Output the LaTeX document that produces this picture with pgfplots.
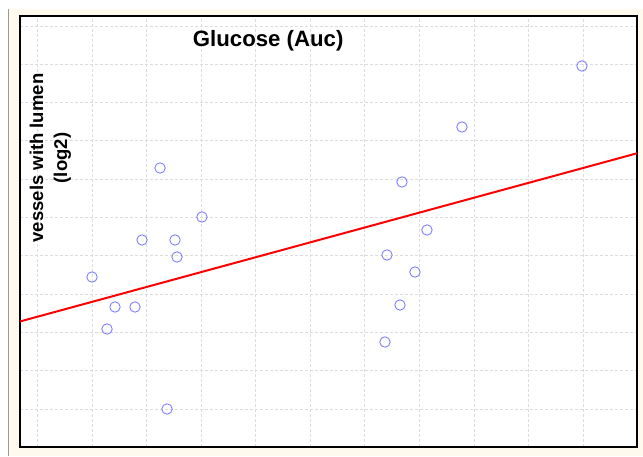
\documentclass[border=0pt]{standalone}
\usepackage{pgfplots}
\pgfplotsset{compat=1.18}
\usepackage{fontspec}
\setmainfont{Liberation Sans}
\definecolor{cream}{HTML}{FFF9EE}
\definecolor{gridgray}{HTML}{DCDCDC}
\definecolor{markblue}{HTML}{8080FF}
\begin{document}
\begin{tikzpicture}
\fill[white] (0pt,0pt) rectangle (643pt,456pt);
\fill[cream] (8pt,0pt) rectangle (643pt,447pt);
\draw[gray!80, line width=1pt] (8.5pt,0pt) -- (8.5pt,447pt);
\begin{axis}[
  at={(20pt,9pt)}, anchor=south west,
  scale only axis, width=617pt, height=431pt,
  xmin=-0.317, xmax=10.984, ymin=-0.992, ymax=10.261,
  xtick={0,...,10}, ytick={0,...,10},
  xticklabels={}, yticklabels={},
  major tick length=0pt,
  grid=major,
  major grid style={gridgray, dashed, line width=0.8pt, dash pattern=on 3pt off 2pt},
  axis line style={black, line width=2.8pt},
  axis background/.style={fill=white},
  clip=true,
]
\addplot[only marks, mark=o, mark size=5.2pt, mark options={markblue, line width=0.9pt}] coordinates {
(1.002,3.446) (1.277,2.089) (1.423,2.663) (1.789,2.663) (1.918,4.413)
(2.248,6.292) (2.376,0.000) (2.522,4.413) (2.559,3.969) (3.016,5.013)
(6.368,1.749) (6.405,4.021) (6.643,2.715) (6.679,5.927) (6.917,3.577)
(7.137,4.674) (7.778,7.363) (9.976,8.956)
};
\addplot[red, line width=2pt] coordinates {(-0.317,2.285) (10.984,6.676)};
\end{axis}
\node[anchor=base, inner sep=0pt, font=\fontsize{22.2}{24}\selectfont\bfseries] at (268.2pt,409.3pt) {Glucose (Auc)};
\node[rotate=90, align=center, inner sep=0pt, font=\fontsize{18.5}{24}\selectfont\bfseries] at (50.5pt,298pt) {vessels with lumen\\(log2)};
\end{tikzpicture}
\end{document}
